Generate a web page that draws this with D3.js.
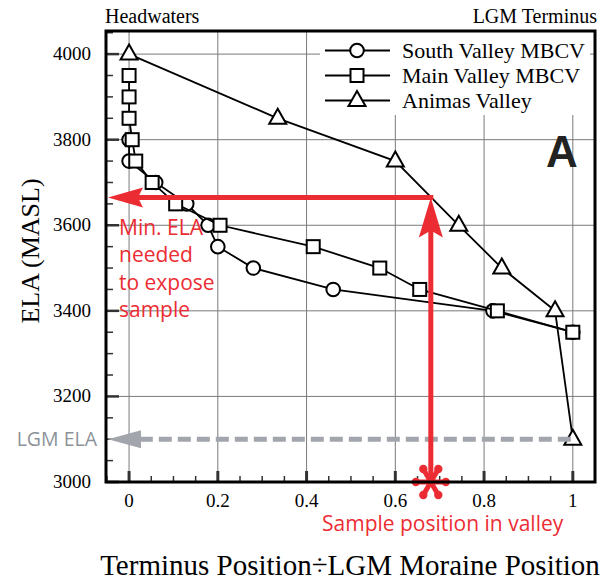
<!DOCTYPE html>
<html>
<head>
<meta charset="utf-8">
<script src="https://cdn.jsdelivr.net/npm/d3@7/dist/d3.min.js"></script>
<style>
  html, body { margin: 0; padding: 0; background: #fff; }
  svg { display: block; }
</style>
</head>
<body>
<svg id="chart" width="610" height="586"></svg>
<script>
// Relative terminus position (0 = headwaters, 1 = LGM moraine) and ELA (m a.s.l.)
const southX   = [0, 0, 0.06, 0.13, 0.178, 0.2, 0.28, 0.46, 0.82, 1.0];
const southELA = [3800, 3750, 3700, 3650, 3600, 3550, 3500, 3450, 3400, 3350];

const mainX    = [0, 0, 0, 0.007, 0.015, 0.052, 0.105, 0.205, 0.415, 0.565, 0.655, 0.83, 1.0];
const mainELA  = [3950, 3900, 3850, 3800, 3750, 3700, 3650, 3600, 3550, 3500, 3450, 3400, 3350];

const animasX   = [0, 0.335, 0.6, 0.743, 0.84, 0.96, 1.0];
const animasELA = [4000, 3850, 3750, 3600, 3500, 3400, 3100];

const seriesNames = ["South Valley MBCV", "Main Valley MBCV", "Animas Valley"];
const xTicks = [0, 0.2, 0.4, 0.6, 0.8, 1];
const yTicks = [3000, 3200, 3400, 3600, 3800, 4000];

// Annotation values
const samplePosition = 0.68;
const minELA = 3665;
const lgmELA = 3100;

const svg = d3.select("#chart");
const pLeft = 106, pRight = 595, pTop = 31, pBottom = 482;

const x = d3.scaleLinear().domain([-0.052, 1.05]).range([pLeft, pRight]);
const y = d3.scaleLinear().domain([3000, 4054]).range([pBottom, pTop]);

const serif = "'Liberation Serif', 'Times New Roman', serif";
const sans = "'Open Sans', 'Noto Sans', sans-serif";
const red = "#ec2c33";
const grey = "#a2a6ac";

// grid
const grid = svg.append("g");
grid.selectAll("line.v").data(xTicks).join("line")
  .attr("x1", d => x(d)).attr("x2", d => x(d))
  .attr("y1", pTop).attr("y2", pBottom)
  .attr("stroke", "#7a7a7a").attr("stroke-width", 1);
grid.selectAll("line.h").data(yTicks.filter(d => d > 3000)).join("line")
  .attr("x1", pLeft).attr("x2", pRight)
  .attr("y1", d => y(d)).attr("y2", d => y(d))
  .attr("stroke", "#7a7a7a").attr("stroke-width", 1);

// minor / major ticks on the left axis
const yMinor = d3.range(3050, 4051, 50).filter(v => v % 200 !== 0);
svg.append("g").selectAll("line").data(yMinor).join("line")
  .attr("x1", pLeft).attr("x2", pLeft + 7)
  .attr("y1", d => y(d)).attr("y2", d => y(d))
  .attr("stroke", "#333").attr("stroke-width", 1.5);
svg.append("g").selectAll("line").data(yTicks).join("line")
  .attr("x1", pLeft).attr("x2", pLeft + 13)
  .attr("y1", d => y(d)).attr("y2", d => y(d))
  .attr("stroke", "#333").attr("stroke-width", 2.5);

// minor / major ticks on the bottom axis
const xMinor = d3.range(-0.05, 1.051, 0.05).map(v => +v.toFixed(2)).filter(v => Math.round(v * 100) % 20 !== 0);
svg.append("g").selectAll("line").data(xMinor).join("line")
  .attr("x1", d => x(d)).attr("x2", d => x(d))
  .attr("y1", pBottom).attr("y2", pBottom - 6)
  .attr("stroke", "#333").attr("stroke-width", 1.5);
svg.append("g").selectAll("line").data(xTicks).join("line")
  .attr("x1", d => x(d)).attr("x2", d => x(d))
  .attr("y1", pBottom).attr("y2", pBottom - 11)
  .attr("stroke", "#333").attr("stroke-width", 3);

// tick labels
svg.append("g").selectAll("text").data(yTicks).join("text")
  .attr("x", 91).attr("y", d => y(d) + 6)
  .attr("text-anchor", "end")
  .attr("font-family", serif).attr("font-size", 19)
  .text(d => d);
svg.append("g").selectAll("text").data(xTicks).join("text")
  .attr("x", d => x(d)).attr("y", 507)
  .attr("text-anchor", "middle")
  .attr("font-family", serif).attr("font-size", 19)
  .text(d => d3.format("")(d));

// legend background
svg.append("rect").attr("x", 320).attr("y", pTop).attr("width", 270).attr("height", 84).attr("fill", "#fff");

// series
const line = d3.line().x(d => x(d[0])).y(d => y(d[1]));
const zip = (a, b) => a.map((v, i) => [v, b[i]]);
const series = [
  { name: seriesNames[0], pts: zip(southX, southELA), shape: "circle" },
  { name: seriesNames[1], pts: zip(mainX, mainELA), shape: "square" },
  { name: seriesNames[2], pts: zip(animasX, animasELA), shape: "triangle" }
];

function marker(g, shape, cx, cy) {
  if (shape === "circle") {
    g.append("circle").attr("cx", cx).attr("cy", cy).attr("r", 6.8)
      .attr("fill", "#fff").attr("stroke", "#000").attr("stroke-width", 2);
  } else if (shape === "square") {
    g.append("rect").attr("x", cx - 6.5).attr("y", cy - 6.5).attr("width", 13).attr("height", 13)
      .attr("fill", "#fff").attr("stroke", "#000").attr("stroke-width", 2);
  } else {
    g.append("path").attr("d", `M${cx},${cy - 9.5}L${cx + 8.5},${cy + 5.5}L${cx - 8.5},${cy + 5.5}Z`)
      .attr("fill", "#fff").attr("stroke", "#000").attr("stroke-width", 2).attr("stroke-linejoin", "miter");
  }
}

series.forEach(s => {
  const g = svg.append("g");
  g.append("path").attr("d", line(s.pts)).attr("fill", "none")
    .attr("stroke", "#000").attr("stroke-width", 1.8);
  s.pts.forEach(p => marker(g, s.shape, x(p[0]), y(p[1])));
});

// legend
series.forEach((s, i) => {
  const ly = 50.5 + i * 25;
  const g = svg.append("g");
  g.append("line").attr("x1", 325).attr("x2", 390).attr("y1", ly).attr("y2", ly)
    .attr("stroke", "#000").attr("stroke-width", 2);
  marker(g, s.shape, 357, ly);
  g.append("text").attr("x", 402).attr("y", ly + 7)
    .attr("font-family", serif).attr("font-size", 22).text(s.name);
});

// panel label
svg.append("text").attr("x", 546).attr("y", 167)
  .attr("font-family", "'Liberation Sans', Arial, sans-serif").attr("font-weight", "bold")
  .attr("font-size", 44).attr("fill", "#222").text("A");

// LGM ELA dashed arrow
const gy = y(lgmELA);
svg.append("line").attr("x1", x(1) - 2).attr("x2", pLeft + 30).attr("y1", gy).attr("y2", gy)
  .attr("stroke", grey).attr("stroke-width", 5).attr("stroke-dasharray", "13,6");
svg.append("path").attr("d", `M${pLeft + 2},${gy}L${pLeft + 35},${gy - 9}L${pLeft + 35},${gy + 9}Z`)
  .attr("fill", grey);
svg.append("text").attr("x", 97).attr("y", gy + 7).attr("text-anchor", "end")
  .attr("font-family", sans).attr("font-size", 19.5).attr("fill", "#8d9298").text("LGM ELA");

// sample position -> minimum ELA arrows
const sx = x(samplePosition), ey = y(minELA);
svg.append("line").attr("x1", sx).attr("x2", sx).attr("y1", pBottom).attr("y2", ey + 30)
  .attr("stroke", red).attr("stroke-width", 5);
svg.append("path").attr("d", `M${sx},${ey}L${sx + 12},${ey + 40}L${sx},${ey + 33}L${sx - 12},${ey + 40}Z`)
  .attr("fill", red);
svg.append("line").attr("x1", sx + 2.5).attr("x2", pLeft + 32).attr("y1", ey).attr("y2", ey)
  .attr("stroke", red).attr("stroke-width", 5);
svg.append("path").attr("d", `M${pLeft + 2},${ey}L${pLeft + 37},${ey - 10}L${pLeft + 32},${ey}L${pLeft + 37},${ey + 10}Z`)
  .attr("fill", red);

// asterisk at the sample position
const ast = svg.append("g").attr("transform", `translate(${sx},${pBottom})`);
d3.range(6).forEach(k => {
  const a = k * Math.PI / 3;
  const ex = Math.cos(a) * 15, ey2 = Math.sin(a) * 15;
  ast.append("line").attr("x1", 0).attr("y1", 0).attr("x2", ex).attr("y2", ey2)
    .attr("stroke", red).attr("stroke-width", 5).attr("stroke-linecap", "round");
  ast.append("circle").attr("cx", ex).attr("cy", ey2).attr("r", 4.2).attr("fill", red);
});

// annotation texts
const note = svg.append("text").attr("font-family", sans).attr("font-size", 21).attr("fill", red);
["Min. ELA", "needed", "to expose", "sample"].forEach((t, i) => {
  note.append("tspan").attr("x", 119).attr("y", 235 + i * 27.3).text(t);
});
svg.append("text").attr("x", 322).attr("y", 531)
  .attr("font-family", sans).attr("font-size", 21).attr("fill", red)
  .text("Sample position in valley");

// frame
svg.append("rect").attr("x", pLeft).attr("y", pTop).attr("width", pRight - pLeft).attr("height", pBottom - pTop)
  .attr("fill", "none").attr("stroke", "#000").attr("stroke-width", 3);

// headers and axis titles
svg.append("text").attr("x", 105).attr("y", 23).attr("font-family", serif).attr("font-size", 20).text("Headwaters");
svg.append("text").attr("x", 597).attr("y", 23).attr("text-anchor", "end")
  .attr("font-family", serif).attr("font-size", 20).text("LGM Terminus");
svg.append("text").attr("transform", "translate(39,251) rotate(-90)").attr("text-anchor", "middle")
  .attr("font-family", serif).attr("font-size", 26).text("ELA (MASL)");
svg.append("text").attr("x", 350).attr("y", 575).attr("text-anchor", "middle")
  .attr("font-family", serif).attr("font-size", 29).text("Terminus Position\u00f7LGM Moraine Position");
</script>
</body>
</html>
